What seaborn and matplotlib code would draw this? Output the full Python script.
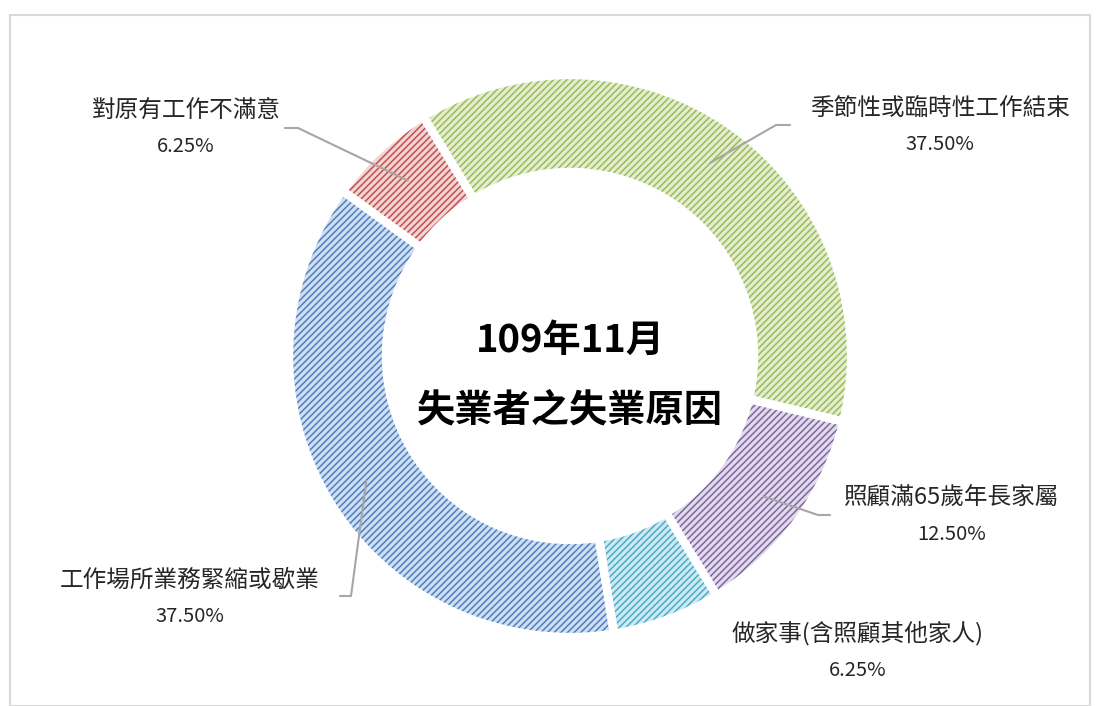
import matplotlib.pyplot as plt
from matplotlib.patches import Rectangle
import seaborn as sns
import numpy as np

# 資料 (順時針, 由季節性開始)
categories = ["季節性或臨時性工作結束", "照顧滿65歲年長家屬", "做家事(含照顧其他家人)",
              "工作場所業務緊縮或歇業", "對原有工作不滿意"]
shares = [37.50, 12.50, 6.25, 37.50, 6.25]
title_lines = ["109年11月", "失業者之失業原因"]

face_colors  = ["#e3edd0", "#e2dbec", "#cdeaf2", "#cfdef2", "#f3d4d4"]
hatch_colors = ["#9bbb59", "#8064a2", "#4bacc6", "#4f81bd", "#c0504d"]

sns.set_theme(style = "white")
plt.rcParams["font.family"] = ["Noto Sans CJK TC", "DejaVu Sans"]
plt.rcParams["hatch.linewidth"] = 1.1

W , H = 1105 , 706
CX , CY , R = 570 , 356 , 281

def px(x , y) :
    # 畫素座標 -> 資料座標
    return (x - CX) / R , (CY - y) / R

fig = plt.figure(figsize = (W / 100 , H / 100) , dpi = 100)
fig.patch.set_facecolor("white")
ax = fig.add_axes([0 , 0 , 1 , 1])

# 外框
fig.patches.append(Rectangle((10 / W , 0.0) , 1080 / W , (H - 15) / H , transform = fig.transFigure ,
                             fill = False , edgecolor = "#d9d9d9" , linewidth = 1.5))

# 甜甜圈 (斜線花紋)
wedges , _ = ax.pie(shares , radius = 1 , startangle = 121.5 , counterclock = False ,
                    colors = face_colors , wedgeprops = dict(width = 0.345 , linewidth = 0))
for w , hc in zip(wedges , hatch_colors) :
    w.set_hatch("/////")
    w.set_edgecolor(hc)
# 白色間隔
ax.pie(shares , radius = 1 , startangle = 121.5 , counterclock = False ,
       colors = ["none"] * len(shares) ,
       wedgeprops = dict(width = 0.345 , linewidth = 6 , edgecolor = "white" , fill = False))

ax.set_aspect("auto")
ax.set_xlim(px(0 , 0)[0] , px(W , 0)[0])
ax.set_ylim(px(0 , H)[1] , px(0 , 0)[1])
ax.axis("off")

# 中央標題
ax.text(0 , px(0 , 340)[1] , title_lines[0] , ha = "center" , va = "center" ,
        fontsize = 27.5 , fontweight = "bold" , color = "black")
ax.text(0 , px(0 , 410)[1] , title_lines[1] , ha = "center" , va = "center" ,
        fontsize = 27.5 , fontweight = "bold" , color = "black")

# 標籤位置 (畫素) 與引線折點
label_pos = [(940 , 108) , (952 , 498) , (858 , 633) , (190 , 580) , (186 , 110)]
elbows = [[(776 , 125) , (790 , 125)] ,
          [(818 , 515) , (830 , 515)] ,
          None ,
          [(351 , 596) , (340 , 596)] ,
          [(298 , 128) , (285 , 128)]]

for w , name , val , pos , elb in zip(wedges , categories , shares , label_pos , elbows) :
    lx , ly = px(*pos)
    ax.text(lx , ly , name , ha = "center" , va = "center" , fontsize = 17 , color = "#262626")
    ax.text(lx , px(0 , pos[1] + 37)[1] , f"{val:.2f}%" , ha = "center" , va = "center" ,
            fontsize = 14.5 , color = "#262626")
    if elb is not None :
        mid = np.deg2rad((w.theta1 + w.theta2) / 2)
        pts = [(0.85 * np.cos(mid) , 0.85 * np.sin(mid))] + [px(*p) for p in elb]
        xs , ys = zip(*pts)
        ax.plot(xs , ys , color = "#a6a6a6" , linewidth = 1.5 , zorder = 5)

fig.savefig("out.png" , dpi = 100 , facecolor = "white")
